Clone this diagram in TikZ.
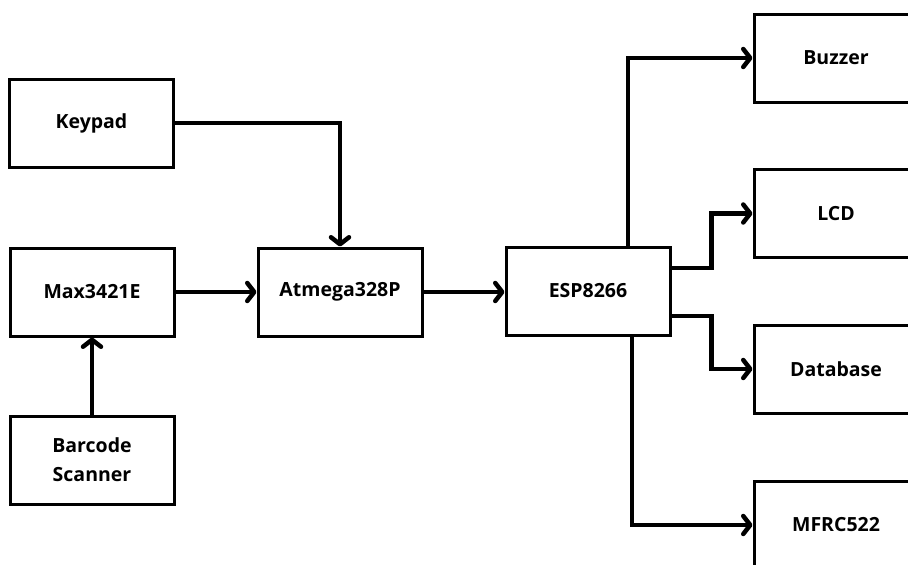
\documentclass[tikz,border=0pt]{standalone}
\usepackage{fontspec}
\setmainfont{Open Sans}
\usetikzlibrary{arrows.meta}
\tikzset{
  blk/.style={draw, line width=3pt, minimum width=164pt, minimum height=88pt, inner sep=0pt, align=center, font=\bfseries\fontsize{19.5}{29}\selectfont},
  conn/.style={line width=4.5pt, -{Straight Barb[length=7pt,width=18pt,line cap=round,line join=round]}}
}
\begin{document}
\begin{tikzpicture}[x=1pt,y=-1pt]
\useasboundingbox (0,0) rectangle (908,565);
\clip (0,0) rectangle (908,565);
\node[blk] (key) at (91.5,123) {Keypad};
\node[blk] (max) at (92,292) {Max3421E};
\node[blk] (atm) at (340,292) {Atmega328P};
\node[blk] (bar) at (92,460) {Barcode\\Scanner};
\node[blk] (esp) at (588,291) {ESP8266};
\node[blk] (buz) at (836,58) {Buzzer};
\node[blk] (lcd) at (836,213.5) {LCD};
\node[blk] (db) at (836,369) {Database};
\node[blk] (mf) at (836,525) {MFRC522};
\draw[conn] (key.east) -| (atm.north);
\draw[conn] (max.east) -- (atm.west);
\draw[conn] (atm.east) -- (atm.east -| esp.west);
\draw[conn] (bar.north) -- (max.south);
\draw[conn] ([xshift=40pt]esp.north) |- (buz.west);
\draw[conn] ([yshift=23pt]esp.east) -- ++(40,0) |- (lcd.west);
\draw[conn] ([yshift=-25pt]esp.east) -- ++(40,0) |- (db.west);
\draw[conn] ([xshift=44pt]esp.south) |- (mf.west);
\end{tikzpicture}
\end{document}
